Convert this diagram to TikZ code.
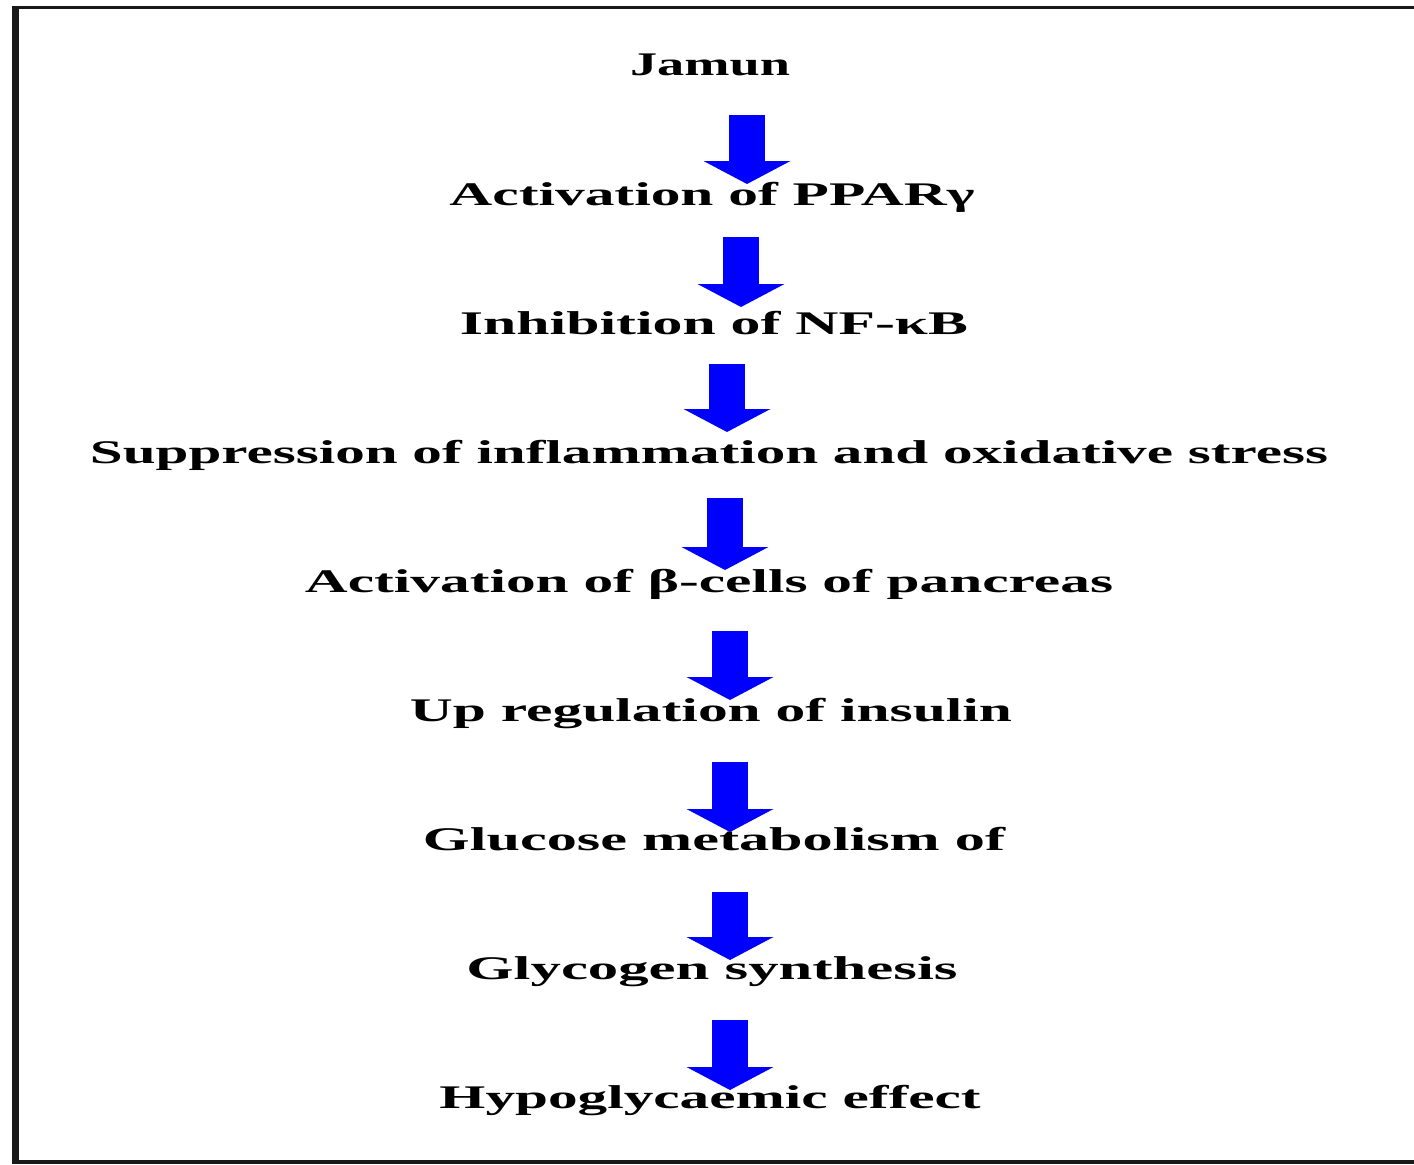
\documentclass[tikz,border=0pt]{standalone}
\usepackage{fontspec}
\usepackage{graphicx}
\setmainfont{Liberation Serif}
\usetikzlibrary{arrows.meta}
\newcommand\stretchtxt[2]{\resizebox{#1pt}{\height}{#2}}
\tikzset{
  lbl/.style={anchor=base, inner sep=0pt, font=\fontsize{16.5}{18}\selectfont\bfseries, text=black},
  barrow/.style={draw=blue, line width=18pt, -{Triangle[width=43pt, length=11.5pt]}},
  framebar/.style={fill=black!90}
}
\begin{document}
\begin{tikzpicture}[x=0.5pt, y=-0.5pt]
\useasboundingbox (0,0) rectangle (1414,1164);
\fill[white] (0,0) rectangle (1414,1164);
% frame
\fill[framebar] (12,6) rectangle (1414,9);
\fill[framebar] (12,6) rectangle (19,1164);
\fill[framebar] (12,1160) rectangle (1414,1164);
% texts
\node[lbl] (n0) at (710,75) {\stretchtxt{80}{Jamun}};
\node[lbl] (n1) at (712,205) {\stretchtxt{262.5}{Activation of PPARγ}};
\node[lbl] (n2) at (714,334) {\stretchtxt{254}{Inhibition of NF-κB}};
\node[lbl] (n3) at (709,463) {\stretchtxt{619}{Suppression of inflammation and oxidative stress}};
\node[lbl] (n4) at (709,592) {\stretchtxt{404}{Activation of β-cells of pancreas}};
\node[lbl] (n5) at (711,721) {\stretchtxt{301}{Up regulation of insulin}};
\node[lbl] (n6) at (714,850) {\stretchtxt{291}{Glucose metabolism of}};
\node[lbl] (n7) at (712,979) {\stretchtxt{245.5}{Glycogen synthesis}};
\node[lbl] (n8) at (710,1108) {\stretchtxt{270.5}{Hypoglycaemic effect}};
% arrow ends
\coordinate (a1s) at (747,115);  \coordinate (a1e) at (747,184);
\coordinate (a2s) at (741,237);  \coordinate (a2e) at (741,307);
\coordinate (a3s) at (727,364);  \coordinate (a3e) at (727,432);
\coordinate (a4s) at (725,498);  \coordinate (a4e) at (725,570);
\coordinate (a5s) at (730,631);  \coordinate (a5e) at (730,700);
\coordinate (a6s) at (730,762);  \coordinate (a6e) at (730,832);
\coordinate (a7s) at (730,892);  \coordinate (a7e) at (730,960);
\coordinate (a8s) at (730,1020); \coordinate (a8e) at (730,1090);
\foreach \i in {1,...,8} {\draw[barrow] (a\i s) -- (a\i e);}
\end{tikzpicture}
\end{document}
